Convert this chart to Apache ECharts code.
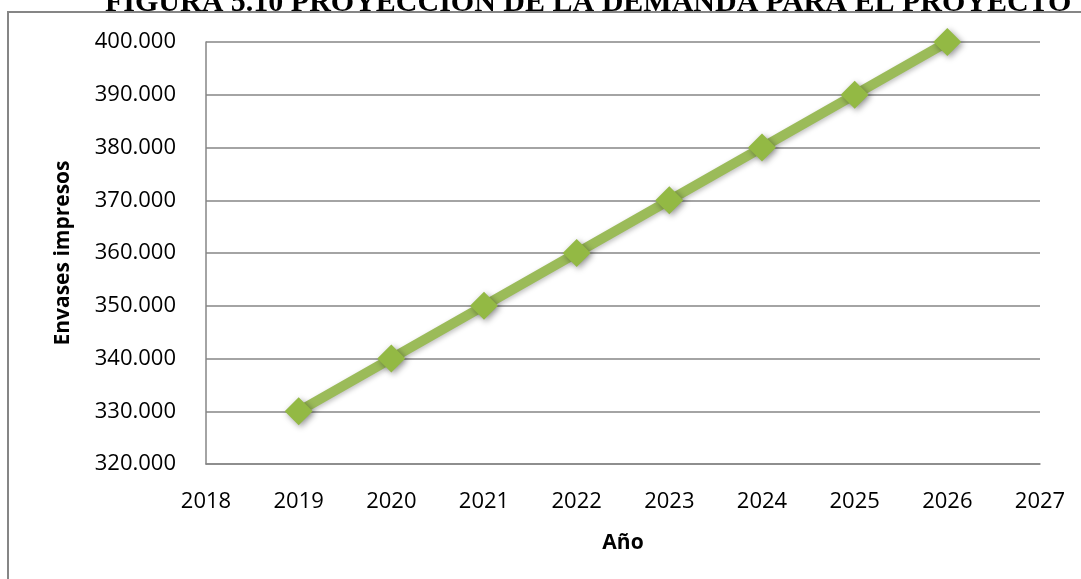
<!DOCTYPE html>
<html>
<head>
<meta charset="utf-8">
<script src="https://cdn.jsdelivr.net/npm/echarts@6/dist/echarts.min.js"></script>
<style>
  html, body { margin: 0; padding: 0; background: #fff; }
  #chart { width: 1081px; height: 579px; }
</style>
</head>
<body>
<div id="chart"></div>
<script>
// Projected demand (printed containers) per year
const years = [2019, 2020, 2021, 2022, 2023, 2024, 2025, 2026];
const demand = [330000, 340000, 350000, 360000, 370000, 380000, 390000, 400000];
const titleText = 'FIGURA 5.10 PROYECCIÓN DE LA DEMANDA PARA EL PROYECTO';
const yAxisName = 'Envases impresos';
const xAxisName = 'Año';

const fmtThousands = v => String(v).replace(/\B(?=(\d{3})+(?!\d))/g, '.');

const chart = echarts.init(document.getElementById('chart'));
const labelFont = '"Open Sans", "Noto Sans", sans-serif';

chart.setOption({
  backgroundColor: '#ffffff',
  animation: false,
  graphic: [
    {
      type: 'text',
      left: 105,
      top: -12,
      style: {
        text: titleText,
        font: 'bold 30px "Liberation Serif", "DejaVu Serif", serif',
        fill: '#000'
      },
      z: 1
    },
    {
      type: 'rect',
      shape: { x: 8, y: 12, width: 1200, height: 700 },
      style: { fill: 'rgba(0,0,0,0)', stroke: '#868686', lineWidth: 2 },
      z: 2
    }
  ],
  grid: { left: 206, top: 42, right: 41, bottom: 115 },
  xAxis: {
    type: 'value',
    min: 2018,
    max: 2027,
    interval: 1,
    name: xAxisName,
    nameLocation: 'middle',
    nameGap: 69,
    nameTextStyle: { fontFamily: labelFont, fontWeight: 'bold', fontSize: 21, color: '#000' },
    axisLine: { show: true, lineStyle: { color: '#868686', width: 1.5 } },
    axisTick: { show: false },
    splitLine: { show: false },
    axisLabel: { fontFamily: labelFont, fontSize: 22, color: '#000', margin: 27, formatter: v => String(v) }
  },
  yAxis: {
    type: 'value',
    min: 320000,
    max: 400000,
    interval: 10000,
    name: yAxisName,
    nameLocation: 'middle',
    nameGap: 132,
    nameRotate: 90,
    nameTextStyle: { fontFamily: labelFont, fontWeight: 'bold', fontSize: 21, color: '#000' },
    axisLine: { show: true, lineStyle: { color: '#868686', width: 1.5 } },
    axisTick: { show: false },
    splitLine: { show: true, lineStyle: { color: '#868686', width: 1.5 } },
    axisLabel: { fontFamily: labelFont, fontSize: 22, color: '#000', margin: 30, formatter: fmtThousands }
  },
  series: [{
    type: 'line',
    data: years.map((y, i) => [y, demand[i]]),
    lineStyle: {
      color: '#9BBB59',
      width: 10,
      shadowColor: 'rgba(0,0,0,0.25)',
      shadowBlur: 5,
      shadowOffsetX: 1,
      shadowOffsetY: 2
    },
    symbol: 'diamond',
    symbolSize: 28,
    itemStyle: {
      color: '#93B944',
      shadowColor: 'rgba(0,0,0,0.4)',
      shadowBlur: 6,
      shadowOffsetX: 2,
      shadowOffsetY: 2
    },
    z: 3
  }]
});
</script>
</body>
</html>
